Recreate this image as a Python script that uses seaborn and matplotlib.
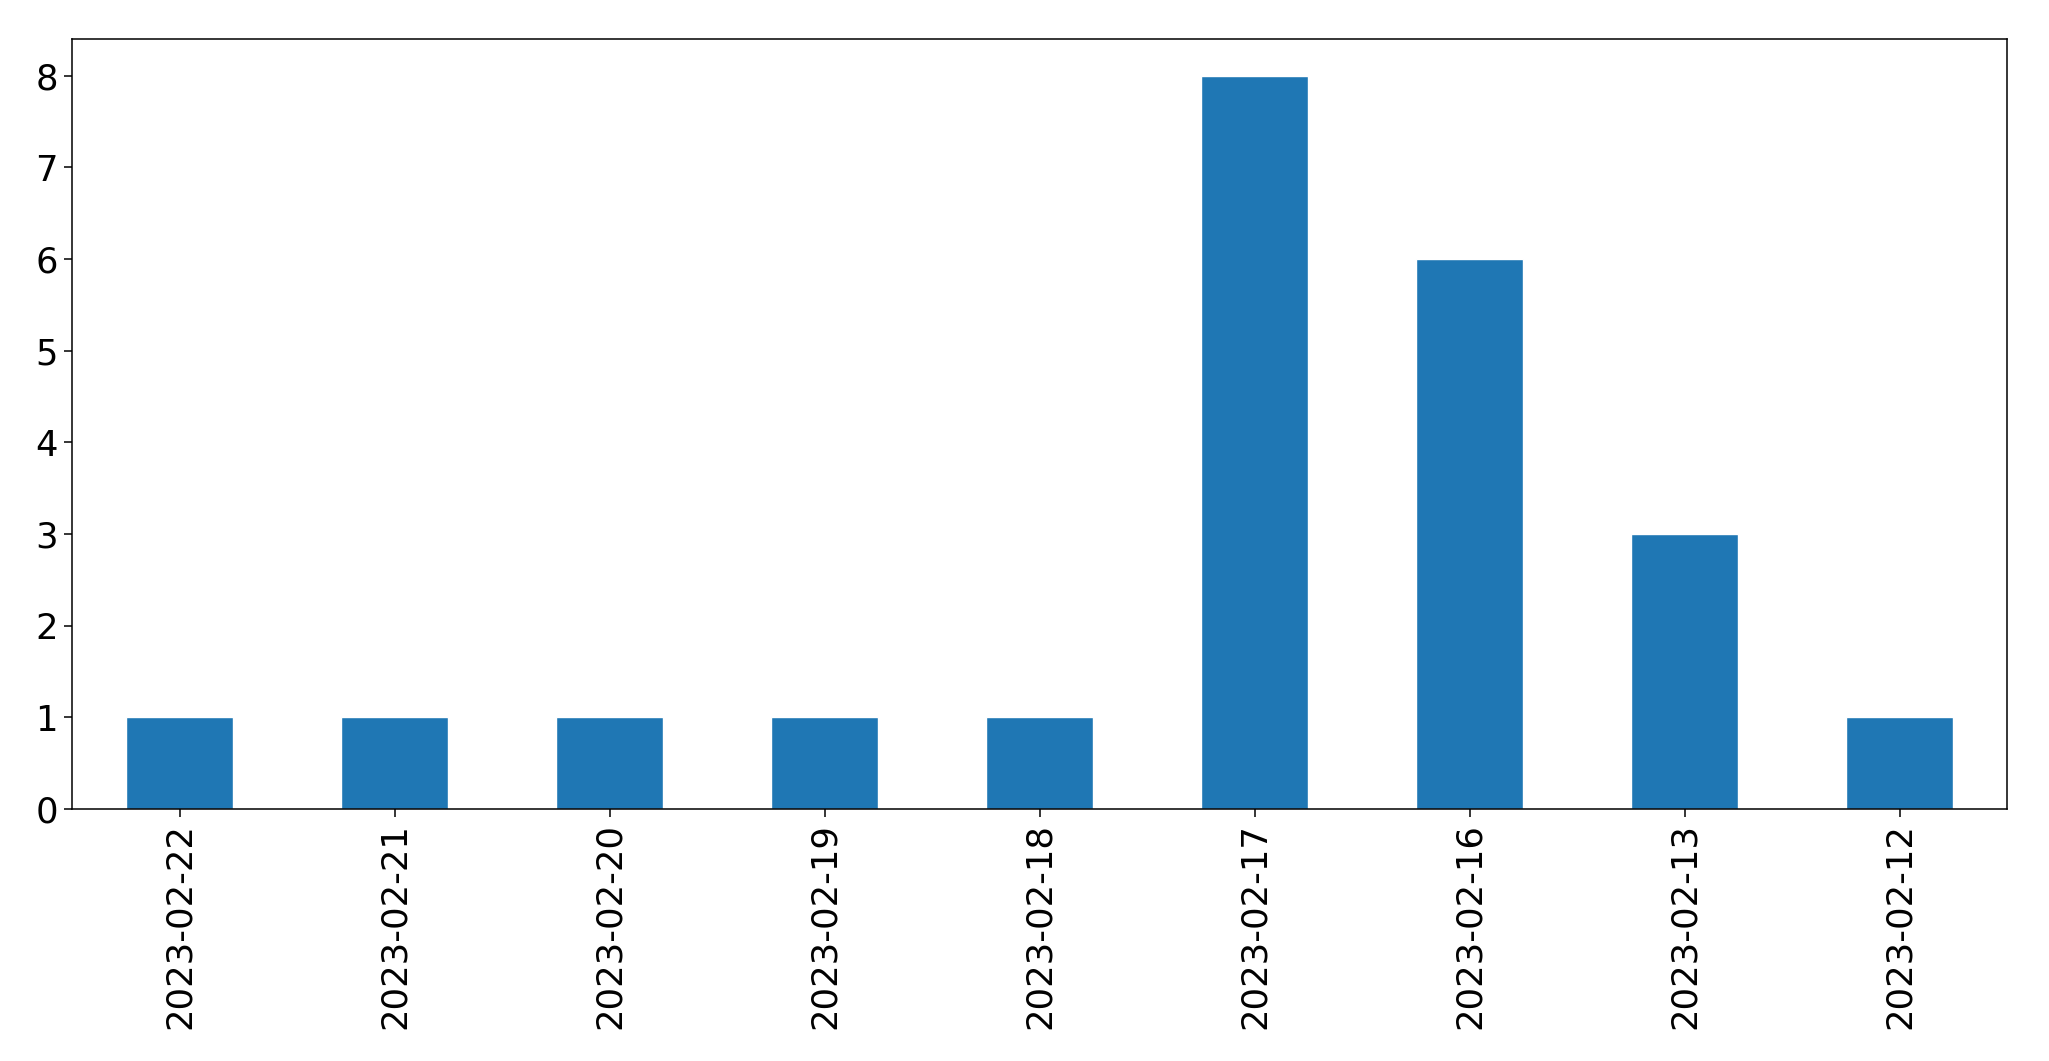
import matplotlib
matplotlib.use("Agg")
import matplotlib.pyplot as plt
import seaborn as sns
import pandas as pd

dates = ["2023-02-22", "2023-02-21", "2023-02-20", "2023-02-19", "2023-02-18",
         "2023-02-17", "2023-02-16", "2023-02-13", "2023-02-12"]
counts = [1, 1, 1, 1, 1, 8, 6, 3, 1]

df = pd.DataFrame({"date": dates, "count": counts})

sns.set_style("white")
plt.rcParams['font.family'] = ['DejaVu Sans']

fig = plt.figure(figsize=(20.49, 10.61), dpi=100)
ax = fig.add_axes([72/2049, 1 - 809/1061, (2007-72)/2049, (809-39)/1061])

sns.barplot(data=df, x="date", y="count", order=dates, color="#1f77b4",
            saturation=1, width=0.5, ax=ax)

ax.set_xlim(-0.5, len(dates) - 0.5)
ax.set_ylim(0, 8.4)
ax.set_xlabel("")
ax.set_ylabel("")
ax.tick_params(axis="x", labelrotation=90)
ax.tick_params(axis="both", labelsize=25.5, length=5.5, width=1.1, pad=4.5,
               color="black", labelcolor="black", bottom=True, left=True)
for s in ax.spines.values():
    s.set_visible(True)
    s.set_color("black")
    s.set_linewidth(1.1)

fig.savefig("out.png", dpi=100)
